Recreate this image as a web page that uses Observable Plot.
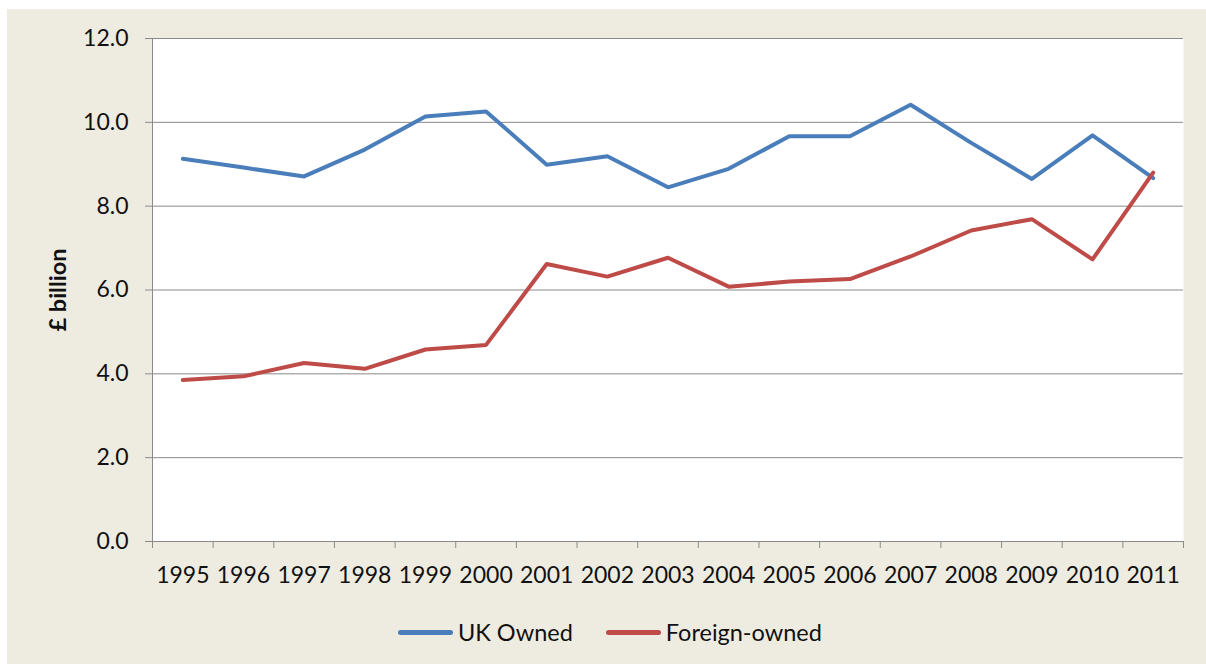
<!DOCTYPE html>
<html>
<head>
<meta charset="utf-8">
<script src="https://cdn.jsdelivr.net/npm/d3@7"></script>
<script src="https://cdn.jsdelivr.net/npm/@observablehq/plot@0.6"></script>
<style>
  html, body { margin: 0; padding: 0; background: #ffffff; width: 1206px; height: 664px; overflow: hidden; }
  #bg { position: absolute; left: 7px; top: 9px; width: 1199px; height: 655px; background: #EEECE1; }
  #chart { position: absolute; left: 0; top: 0; }
  #legend { position: absolute; left: 398px; top: 617px; height: 30px; display: flex; align-items: center;
            font-family: Lato, sans-serif; font-size: 23.5px; color: #111; }
  .item { display: flex; align-items: center; margin-right: 33px; }
  .sw { width: 55px; height: 5px; border-radius: 3px; margin-right: 5px; }
</style>
</head>
<body>
<div id="bg"></div>
<div id="chart"></div>
<div id="legend"></div>
<script>
const years = [1995, 1996, 1997, 1998, 1999, 2000, 2001, 2002, 2003, 2004, 2005, 2006, 2007, 2008, 2009, 2010, 2011];
const ukOwned = [9.13, 8.92, 8.71, 9.35, 10.14, 10.26, 8.99, 9.19, 8.45, 8.89, 9.67, 9.67, 10.42, 9.51, 8.65, 9.69, 8.67];
const foreignOwned = [3.85, 3.94, 4.26, 4.12, 4.58, 4.69, 6.62, 6.32, 6.77, 6.08, 6.20, 6.26, 6.80, 7.42, 7.69, 6.73, 8.80];
const seriesNames = ["UK Owned", "Foreign-owned"];
const seriesColors = ["#4A7EBB", "#BE4B48"];
const yTicks = [0, 2, 4, 6, 8, 10, 12];
const yLabel = "£ billion";

const seriesValues = [ukOwned, foreignOwned];
const table = [];
seriesNames.forEach((name, i) => {
  years.forEach((yr, j) => table.push({series: name, year: yr, value: seriesValues[i][j]}));
});
const boundaries = [years[0] - 0.5, ...years.map(y => y + 0.5)];
const gray = "#8a8a8a";

const chart = Plot.plot({
  width: 1206,
  height: 600,
  marginLeft: 152,
  marginRight: 23,
  marginTop: 38,
  marginBottom: 59,
  style: {background: "transparent", fontFamily: "Lato, sans-serif", fontSize: "23px", color: "#111"},
  x: {domain: [years[0] - 0.5, years[years.length - 1] + 0.5], axis: null},
  y: {domain: [yTicks[0], yTicks[yTicks.length - 1]], axis: null},
  color: {domain: seriesNames, range: seriesColors},
  marks: [
    Plot.frame({fill: "white", stroke: null}),
    Plot.gridY(yTicks, {stroke: gray, strokeOpacity: 1, strokeWidth: 1}),
    Plot.ruleX([boundaries[0]], {stroke: gray, strokeWidth: 1}),
    Plot.ruleY([0], {stroke: gray, strokeWidth: 1}),
    Plot.axisY(yTicks, {tickSize: 7, tickPadding: 17, tickFormat: d => d.toFixed(1), stroke: gray, fill: "#111", label: null, fontSize: 23}),
    Plot.axisX(boundaries, {tickSize: 7, tickFormat: () => "", stroke: gray, label: null}),
    Plot.axisX(years, {tickSize: 0, tickPadding: 25, tickFormat: d => String(d), fill: "#111", label: null, fontSize: 23}),
    Plot.line(table, {x: "year", y: "value", z: "series", stroke: "series", strokeWidth: 4, strokeLinejoin: "round"}),
    Plot.text([yLabel], {text: d => d, frameAnchor: "left", textAnchor: "middle", dx: -94, rotate: -90, fontWeight: "bold", fontSize: 23.5, fill: "#111"})
  ]
});
document.getElementById("chart").appendChild(chart);

const legend = document.getElementById("legend");
seriesNames.forEach((name, i) => {
  const item = document.createElement("div");
  item.className = "item";
  const sw = document.createElement("div");
  sw.className = "sw";
  sw.style.background = seriesColors[i];
  const t = document.createElement("span");
  t.textContent = name;
  item.appendChild(sw);
  item.appendChild(t);
  legend.appendChild(item);
});
</script>
</body>
</html>
